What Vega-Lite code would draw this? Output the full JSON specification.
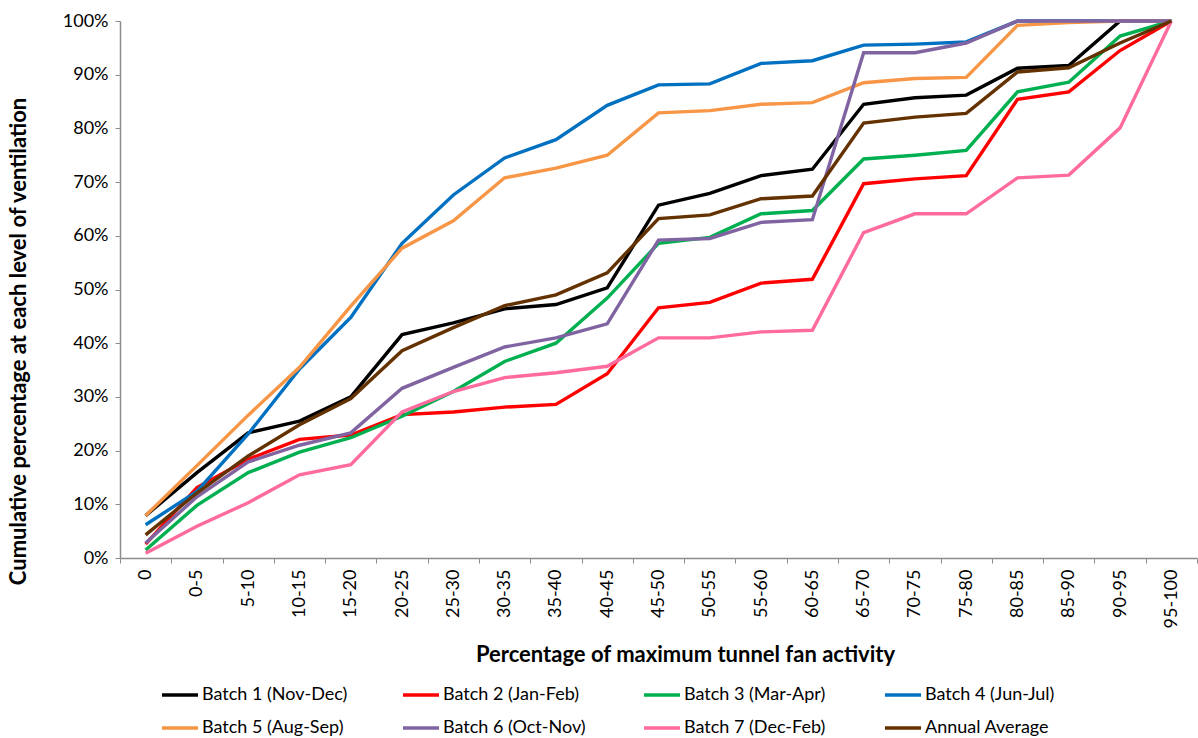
{
  "$schema": "https://vega.github.io/schema/vega-lite/v6.json",
  "width": 1077,
  "height": 537,
  "autosize": "none",
  "padding": {"left": 120, "top": 21, "right": 1, "bottom": 180},
  "background": "white",
  "config": {
    "view": {"stroke": null},
    "font": "Lato",
    "axis": {"grid": false, "domainColor": "#8c8c8c", "tickColor": "#8c8c8c", "labelColor": "#000000", "titleColor": "#000000", "labelFont": "Lato", "titleFont": "Lato"},
    "legend": {"labelFont": "Lato", "labelColor": "#000000"}
  },
  "data": {"values": [
    {"c":"0","s":"Batch 1 (Nov-Dec)","v":7.9},{"c":"0-5","s":"Batch 1 (Nov-Dec)","v":15.9},{"c":"5-10","s":"Batch 1 (Nov-Dec)","v":23.3},{"c":"10-15","s":"Batch 1 (Nov-Dec)","v":25.5},{"c":"15-20","s":"Batch 1 (Nov-Dec)","v":30.0},{"c":"20-25","s":"Batch 1 (Nov-Dec)","v":41.6},{"c":"25-30","s":"Batch 1 (Nov-Dec)","v":43.8},{"c":"30-35","s":"Batch 1 (Nov-Dec)","v":46.4},{"c":"35-40","s":"Batch 1 (Nov-Dec)","v":47.2},{"c":"40-45","s":"Batch 1 (Nov-Dec)","v":50.3},{"c":"45-50","s":"Batch 1 (Nov-Dec)","v":65.7},{"c":"50-55","s":"Batch 1 (Nov-Dec)","v":67.9},{"c":"55-60","s":"Batch 1 (Nov-Dec)","v":71.2},{"c":"60-65","s":"Batch 1 (Nov-Dec)","v":72.4},{"c":"65-70","s":"Batch 1 (Nov-Dec)","v":84.5},{"c":"70-75","s":"Batch 1 (Nov-Dec)","v":85.7},{"c":"75-80","s":"Batch 1 (Nov-Dec)","v":86.2},{"c":"80-85","s":"Batch 1 (Nov-Dec)","v":91.2},{"c":"85-90","s":"Batch 1 (Nov-Dec)","v":91.7},{"c":"90-95","s":"Batch 1 (Nov-Dec)","v":100},{"c":"95-100","s":"Batch 1 (Nov-Dec)","v":100},
    {"c":"0","s":"Batch 2 (Jan-Feb)","v":2.6},{"c":"0-5","s":"Batch 2 (Jan-Feb)","v":13.1},{"c":"5-10","s":"Batch 2 (Jan-Feb)","v":18.4},{"c":"10-15","s":"Batch 2 (Jan-Feb)","v":22.1},{"c":"15-20","s":"Batch 2 (Jan-Feb)","v":22.9},{"c":"20-25","s":"Batch 2 (Jan-Feb)","v":26.7},{"c":"25-30","s":"Batch 2 (Jan-Feb)","v":27.2},{"c":"30-35","s":"Batch 2 (Jan-Feb)","v":28.1},{"c":"35-40","s":"Batch 2 (Jan-Feb)","v":28.6},{"c":"40-45","s":"Batch 2 (Jan-Feb)","v":34.3},{"c":"45-50","s":"Batch 2 (Jan-Feb)","v":46.6},{"c":"50-55","s":"Batch 2 (Jan-Feb)","v":47.6},{"c":"55-60","s":"Batch 2 (Jan-Feb)","v":51.2},{"c":"60-65","s":"Batch 2 (Jan-Feb)","v":51.9},{"c":"65-70","s":"Batch 2 (Jan-Feb)","v":69.7},{"c":"70-75","s":"Batch 2 (Jan-Feb)","v":70.6},{"c":"75-80","s":"Batch 2 (Jan-Feb)","v":71.2},{"c":"80-85","s":"Batch 2 (Jan-Feb)","v":85.4},{"c":"85-90","s":"Batch 2 (Jan-Feb)","v":86.8},{"c":"90-95","s":"Batch 2 (Jan-Feb)","v":94.5},{"c":"95-100","s":"Batch 2 (Jan-Feb)","v":100},
    {"c":"0","s":"Batch 3 (Mar-Apr)","v":1.5},{"c":"0-5","s":"Batch 3 (Mar-Apr)","v":9.8},{"c":"5-10","s":"Batch 3 (Mar-Apr)","v":15.9},{"c":"10-15","s":"Batch 3 (Mar-Apr)","v":19.7},{"c":"15-20","s":"Batch 3 (Mar-Apr)","v":22.4},{"c":"20-25","s":"Batch 3 (Mar-Apr)","v":26.4},{"c":"25-30","s":"Batch 3 (Mar-Apr)","v":31.0},{"c":"30-35","s":"Batch 3 (Mar-Apr)","v":36.6},{"c":"35-40","s":"Batch 3 (Mar-Apr)","v":40.0},{"c":"40-45","s":"Batch 3 (Mar-Apr)","v":48.4},{"c":"45-50","s":"Batch 3 (Mar-Apr)","v":58.6},{"c":"50-55","s":"Batch 3 (Mar-Apr)","v":59.7},{"c":"55-60","s":"Batch 3 (Mar-Apr)","v":64.1},{"c":"60-65","s":"Batch 3 (Mar-Apr)","v":64.7},{"c":"65-70","s":"Batch 3 (Mar-Apr)","v":74.3},{"c":"70-75","s":"Batch 3 (Mar-Apr)","v":75.0},{"c":"75-80","s":"Batch 3 (Mar-Apr)","v":75.9},{"c":"80-85","s":"Batch 3 (Mar-Apr)","v":86.8},{"c":"85-90","s":"Batch 3 (Mar-Apr)","v":88.6},{"c":"90-95","s":"Batch 3 (Mar-Apr)","v":97.2},{"c":"95-100","s":"Batch 3 (Mar-Apr)","v":100},
    {"c":"0","s":"Batch 4 (Jun-Jul)","v":6.2},{"c":"0-5","s":"Batch 4 (Jun-Jul)","v":12.4},{"c":"5-10","s":"Batch 4 (Jun-Jul)","v":23.1},{"c":"10-15","s":"Batch 4 (Jun-Jul)","v":35.2},{"c":"15-20","s":"Batch 4 (Jun-Jul)","v":44.8},{"c":"20-25","s":"Batch 4 (Jun-Jul)","v":58.6},{"c":"25-30","s":"Batch 4 (Jun-Jul)","v":67.6},{"c":"30-35","s":"Batch 4 (Jun-Jul)","v":74.5},{"c":"35-40","s":"Batch 4 (Jun-Jul)","v":77.9},{"c":"40-45","s":"Batch 4 (Jun-Jul)","v":84.3},{"c":"45-50","s":"Batch 4 (Jun-Jul)","v":88.1},{"c":"50-55","s":"Batch 4 (Jun-Jul)","v":88.3},{"c":"55-60","s":"Batch 4 (Jun-Jul)","v":92.1},{"c":"60-65","s":"Batch 4 (Jun-Jul)","v":92.6},{"c":"65-70","s":"Batch 4 (Jun-Jul)","v":95.5},{"c":"70-75","s":"Batch 4 (Jun-Jul)","v":95.7},{"c":"75-80","s":"Batch 4 (Jun-Jul)","v":96.1},{"c":"80-85","s":"Batch 4 (Jun-Jul)","v":100},{"c":"85-90","s":"Batch 4 (Jun-Jul)","v":100},{"c":"90-95","s":"Batch 4 (Jun-Jul)","v":100},{"c":"95-100","s":"Batch 4 (Jun-Jul)","v":100},
    {"c":"0","s":"Batch 5 (Aug-Sep)","v":7.9},{"c":"0-5","s":"Batch 5 (Aug-Sep)","v":17.2},{"c":"5-10","s":"Batch 5 (Aug-Sep)","v":26.6},{"c":"10-15","s":"Batch 5 (Aug-Sep)","v":35.5},{"c":"15-20","s":"Batch 5 (Aug-Sep)","v":46.9},{"c":"20-25","s":"Batch 5 (Aug-Sep)","v":57.7},{"c":"25-30","s":"Batch 5 (Aug-Sep)","v":62.8},{"c":"30-35","s":"Batch 5 (Aug-Sep)","v":70.8},{"c":"35-40","s":"Batch 5 (Aug-Sep)","v":72.6},{"c":"40-45","s":"Batch 5 (Aug-Sep)","v":75.0},{"c":"45-50","s":"Batch 5 (Aug-Sep)","v":82.9},{"c":"50-55","s":"Batch 5 (Aug-Sep)","v":83.3},{"c":"55-60","s":"Batch 5 (Aug-Sep)","v":84.5},{"c":"60-65","s":"Batch 5 (Aug-Sep)","v":84.8},{"c":"65-70","s":"Batch 5 (Aug-Sep)","v":88.5},{"c":"70-75","s":"Batch 5 (Aug-Sep)","v":89.3},{"c":"75-80","s":"Batch 5 (Aug-Sep)","v":89.5},{"c":"80-85","s":"Batch 5 (Aug-Sep)","v":99.2},{"c":"85-90","s":"Batch 5 (Aug-Sep)","v":99.7},{"c":"90-95","s":"Batch 5 (Aug-Sep)","v":100},{"c":"95-100","s":"Batch 5 (Aug-Sep)","v":100},
    {"c":"0","s":"Batch 6 (Oct-Nov)","v":2.8},{"c":"0-5","s":"Batch 6 (Oct-Nov)","v":11.4},{"c":"5-10","s":"Batch 6 (Oct-Nov)","v":17.9},{"c":"10-15","s":"Batch 6 (Oct-Nov)","v":21.0},{"c":"15-20","s":"Batch 6 (Oct-Nov)","v":23.3},{"c":"20-25","s":"Batch 6 (Oct-Nov)","v":31.6},{"c":"25-30","s":"Batch 6 (Oct-Nov)","v":35.5},{"c":"30-35","s":"Batch 6 (Oct-Nov)","v":39.3},{"c":"35-40","s":"Batch 6 (Oct-Nov)","v":41.0},{"c":"40-45","s":"Batch 6 (Oct-Nov)","v":43.6},{"c":"45-50","s":"Batch 6 (Oct-Nov)","v":59.2},{"c":"50-55","s":"Batch 6 (Oct-Nov)","v":59.5},{"c":"55-60","s":"Batch 6 (Oct-Nov)","v":62.5},{"c":"60-65","s":"Batch 6 (Oct-Nov)","v":63.0},{"c":"65-70","s":"Batch 6 (Oct-Nov)","v":94.1},{"c":"70-75","s":"Batch 6 (Oct-Nov)","v":94.1},{"c":"75-80","s":"Batch 6 (Oct-Nov)","v":95.9},{"c":"80-85","s":"Batch 6 (Oct-Nov)","v":100},{"c":"85-90","s":"Batch 6 (Oct-Nov)","v":100},{"c":"90-95","s":"Batch 6 (Oct-Nov)","v":100},{"c":"95-100","s":"Batch 6 (Oct-Nov)","v":100},
    {"c":"0","s":"Batch 7 (Dec-Feb)","v":0.9},{"c":"0-5","s":"Batch 7 (Dec-Feb)","v":5.9},{"c":"5-10","s":"Batch 7 (Dec-Feb)","v":10.3},{"c":"10-15","s":"Batch 7 (Dec-Feb)","v":15.5},{"c":"15-20","s":"Batch 7 (Dec-Feb)","v":17.4},{"c":"20-25","s":"Batch 7 (Dec-Feb)","v":27.2},{"c":"25-30","s":"Batch 7 (Dec-Feb)","v":31.0},{"c":"30-35","s":"Batch 7 (Dec-Feb)","v":33.6},{"c":"35-40","s":"Batch 7 (Dec-Feb)","v":34.5},{"c":"40-45","s":"Batch 7 (Dec-Feb)","v":35.7},{"c":"45-50","s":"Batch 7 (Dec-Feb)","v":41.0},{"c":"50-55","s":"Batch 7 (Dec-Feb)","v":41.0},{"c":"55-60","s":"Batch 7 (Dec-Feb)","v":42.1},{"c":"60-65","s":"Batch 7 (Dec-Feb)","v":42.4},{"c":"65-70","s":"Batch 7 (Dec-Feb)","v":60.6},{"c":"70-75","s":"Batch 7 (Dec-Feb)","v":64.1},{"c":"75-80","s":"Batch 7 (Dec-Feb)","v":64.1},{"c":"80-85","s":"Batch 7 (Dec-Feb)","v":70.8},{"c":"85-90","s":"Batch 7 (Dec-Feb)","v":71.3},{"c":"90-95","s":"Batch 7 (Dec-Feb)","v":80.1},{"c":"95-100","s":"Batch 7 (Dec-Feb)","v":100},
    {"c":"0","s":"Annual Average","v":4.3},{"c":"0-5","s":"Annual Average","v":12.1},{"c":"5-10","s":"Annual Average","v":19.0},{"c":"10-15","s":"Annual Average","v":24.8},{"c":"15-20","s":"Annual Average","v":29.7},{"c":"20-25","s":"Annual Average","v":38.6},{"c":"25-30","s":"Annual Average","v":42.9},{"c":"30-35","s":"Annual Average","v":47.0},{"c":"35-40","s":"Annual Average","v":49.0},{"c":"40-45","s":"Annual Average","v":53.1},{"c":"45-50","s":"Annual Average","v":63.2},{"c":"50-55","s":"Annual Average","v":63.9},{"c":"55-60","s":"Annual Average","v":66.9},{"c":"60-65","s":"Annual Average","v":67.4},{"c":"65-70","s":"Annual Average","v":81.0},{"c":"70-75","s":"Annual Average","v":82.1},{"c":"75-80","s":"Annual Average","v":82.8},{"c":"80-85","s":"Annual Average","v":90.5},{"c":"85-90","s":"Annual Average","v":91.3},{"c":"90-95","s":"Annual Average","v":95.9},{"c":"95-100","s":"Annual Average","v":100}
  ]},
  "mark": {"type": "line", "strokeWidth": 3.4, "strokeJoin": "miter"},
  "encoding": {
    "x": {
      "field": "c", "type": "ordinal",
      "sort": ["0","0-5","5-10","10-15","15-20","20-25","25-30","30-35","35-40","40-45","45-50","50-55","55-60","60-65","65-70","70-75","75-80","80-85","85-90","90-95","95-100"],
      "scale": {"type": "band", "paddingInner": 0, "paddingOuter": 0},
      "bandPosition": 0.5,
      "axis": {
        "title": "Percentage of maximum tunnel fan activity",
        "titleFontSize": 22, "titleFontWeight": "bold",
        "titleX": 565, "titleY": 96, "titleBaseline": "middle", "titleAnchor": "middle", "titleAlign": "center",
        "labelAngle": 270, "labelFontSize": 18, "labelPadding": 6,
        "tickBand": "extent", "tickSize": 5, "domainWidth": 1.5
      }
    },
    "y": {
      "field": "v", "type": "quantitative",
      "scale": {"domain": [0, 100], "nice": false},
      "axis": {
        "title": "Cumulative percentage at each level of ventilation",
        "values": [0,10,20,30,40,50,60,70,80,90,100],
        "labelExpr": "datum.value + '%'",
        "labelFontSize": 18, "labelPadding": 7, "tickSize": 5, "domainWidth": 1.5,
        "titleFontSize": 22, "titleFontWeight": "bold",
        "titleX": -102, "titleY": 320, "titleBaseline": "middle", "titleAngle": 270, "titleAlign": "center"
      }
    },
    "color": {
      "field": "s", "type": "nominal",
      "sort": ["Batch 1 (Nov-Dec)","Batch 2 (Jan-Feb)","Batch 3 (Mar-Apr)","Batch 4 (Jun-Jul)","Batch 5 (Aug-Sep)","Batch 6 (Oct-Nov)","Batch 7 (Dec-Feb)","Annual Average"],
      "scale": {
        "domain": ["Batch 1 (Nov-Dec)","Batch 2 (Jan-Feb)","Batch 3 (Mar-Apr)","Batch 4 (Jun-Jul)","Batch 5 (Aug-Sep)","Batch 6 (Oct-Nov)","Batch 7 (Dec-Feb)","Annual Average"],
        "range": ["#000000","#ff0000","#00b050","#0070c0","#f79646","#8064a2","#ff6b9e","#633200"]
      },
      "legend": {
        "title": null, "orient": "none", "legendX": 40, "legendY": 654,
        "direction": "horizontal", "columns": 4, "gridAlign": "all",
        "symbolType": "stroke", "symbolSize": 1300, "symbolStrokeWidth": 3.4,
        "labelFontSize": 18, "labelOffset": 2, "columnPadding": 48, "rowPadding": 4,
        "labelLimit": 300
      }
    }
  }
}
